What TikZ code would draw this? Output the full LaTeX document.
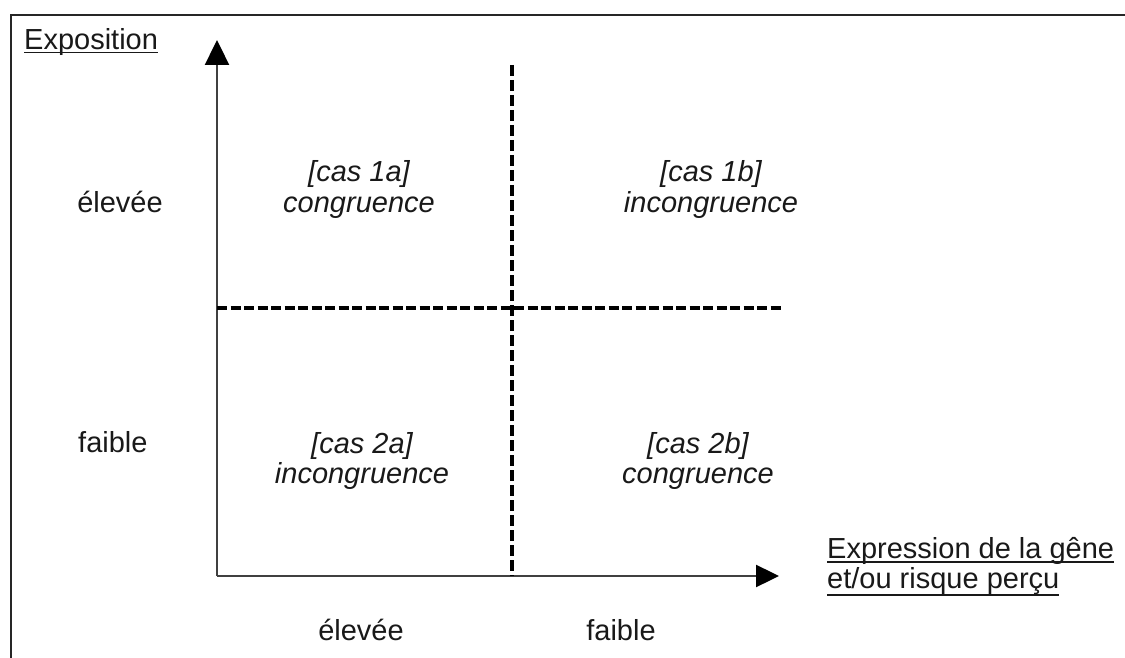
\documentclass[tikz,border=0pt]{standalone}
\usepackage{fontspec}
\setmainfont{Liberation Sans}
\usetikzlibrary{arrows.meta}
\newcommand\myul[2][4pt]{\setbox0\hbox{#2}\rlap{\rule[-#1]{\wd0}{1.8pt}}\box0}
\begin{document}
\begin{tikzpicture}[x=1pt,y=-1pt,
  txt/.style={font=\fontsize{29}{30}\selectfont, inner sep=0pt, anchor=base, text=black!90},
  itxt/.style={txt, font=\fontsize{29}{30}\selectfont\itshape},
  frame/.style={line width=2.2pt, draw=black!85},
  axis/.style={line width=2.4pt, draw=black!75},
  tip/.style={fill=black, draw=black},
  vdash/.style={line width=3.6pt, dash pattern=on 11pt off 4pt},
  hdash/.style={line width=3.6pt, dash pattern=on 10pt off 3.5pt}]
\useasboundingbox (0,0) rectangle (1125,658);
% frame
\coordinate (FTL) at (11,15);
\coordinate (FTR) at (1125,15);
\coordinate (FBL) at (11,658);
\draw[frame] (FTR) -- (FTL) -- (FBL);
% axes
\coordinate (O) at (217,576);
\coordinate (Ytop) at (217,40);
\coordinate (Xend) at (779,576);
\draw[axis, -{Triangle[length=25pt,width=24pt,fill=black,color=black]}] (O) -- (Ytop);
\draw[axis, -{Triangle[length=23pt,width=22pt,fill=black,color=black]}] (O) -- (Xend);
% dashed separators
\coordinate (Vt) at (512,65);
\coordinate (Vb) at (512,576);
\coordinate (Hl) at (217,308);
\coordinate (Hr) at (781,308);
\draw[vdash] (Vt) -- (Vb);
\draw[hdash] (Hl) -- (Hr);
% axis titles
\node[txt, anchor=base west] (expo) at (24,50) {\myul[3.5pt]{Exposition}};
\node[txt, anchor=base west] (xl1) at (827,558) {\myul[5pt]{Expression de la gêne}};
\node[txt, anchor=base west] (xl2) at (827,588) {\myul[8pt]{et/ou risque perçu}};
% axis levels
\node[txt] (yhigh) at (120,212) {élevée};
\node[txt, anchor=base west] (ylow) at (78,452) {faible};
\node[txt] (xhigh) at (361,640) {élevée};
\node[txt] (xlow) at (621,640) {faible};
% cells
\node[itxt] (c1a) at (359,182) {[cas 1a]};
\node[itxt] (c1an) at (359,212) {congruence};
\node[itxt] (c1b) at (711,182) {[cas 1b]};
\node[itxt] (c1bn) at (711,212) {incongruence};
\node[itxt] (c2a) at (362,453) {[cas 2a]};
\node[itxt] (c2an) at (362,483) {incongruence};
\node[itxt] (c2b) at (698,453) {[cas 2b]};
\node[itxt] (c2bn) at (698,483) {congruence};
\end{tikzpicture}
\end{document}
